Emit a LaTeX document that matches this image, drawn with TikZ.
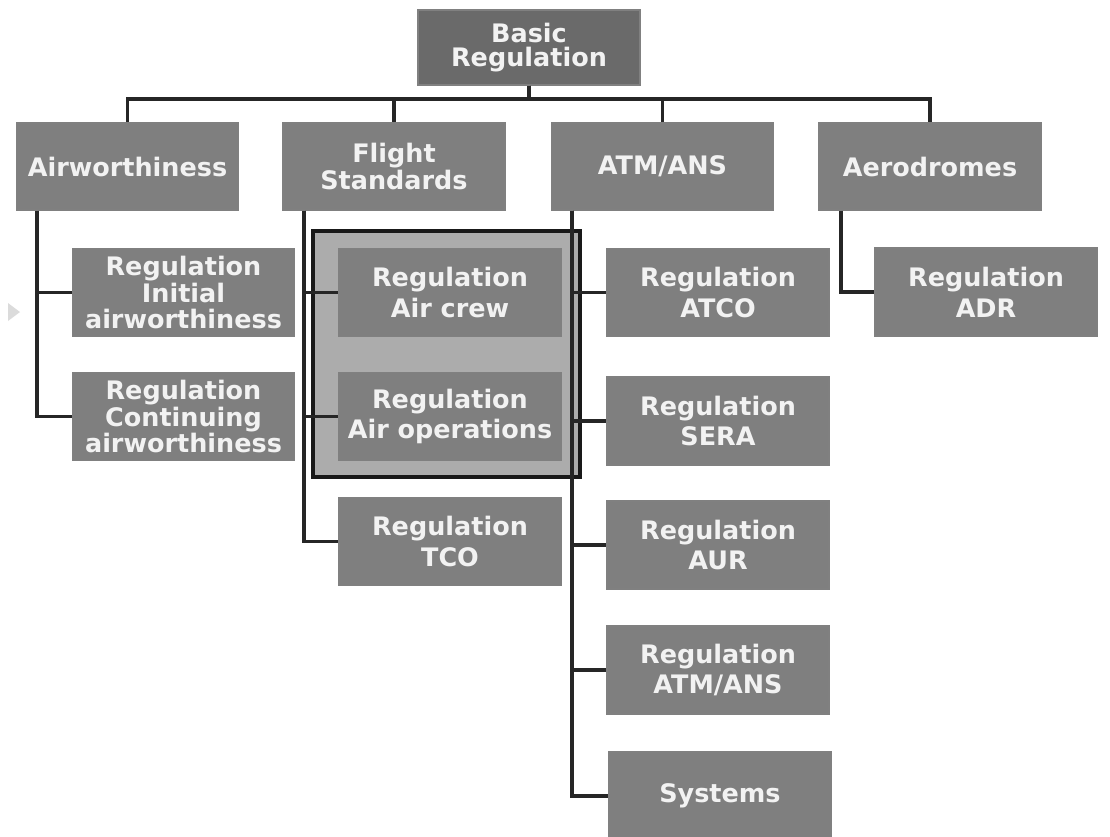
\documentclass[tikz,border=0pt]{standalone}
\usepackage{fontspec}
\setmainfont{DejaVu Sans}
\usetikzlibrary{calc}

\definecolor{boxgray}{RGB}{127,127,127}
\definecolor{topgray}{RGB}{106,106,106}
\definecolor{framegray}{RGB}{172,172,172}
\definecolor{linegray}{RGB}{38,38,38}
\definecolor{textwhite}{RGB}{242,242,242}

\tikzset{
  regbox/.style={draw=black!50, line width=0.8pt, fill=boxgray, text=textwhite,
    minimum width=4.44cm, minimum height=1.76cm, align=center, inner sep=1pt,
    font=\fontsize{14.5}{17.5}\selectfont\bfseries},
  tallbox/.style={regbox, font=\fontsize{14.5}{15.3}\selectfont\bfseries},
  headbox/.style={regbox, minimum height=1.74cm,
    font=\fontsize{14.5}{13.5}\selectfont\bfseries},
  conn/.style={draw=linegray, line width=2.1pt},
}

\begin{document}
\begin{tikzpicture}[x=0.02cm, y=-0.02cm]

\useasboundingbox (0,0) rectangle (1110,836);

%-- small marker on the left edge
\fill[gray!28] (8,303) -- (20,312) -- (8,321) -- cycle;

%-- highlighted group
\draw[draw=black!90, line width=2pt, fill=framegray] (313,231) rectangle (580,477);

%-- top
\node[headbox, fill=topgray, minimum height=1.5cm] (basic) at (529,47.5) {Basic\\Regulation};

%-- domains
\node[headbox] (airw)   at (127.5,166.5) {Airworthiness};
\node[headbox] (flight) at (394,166.5)   {Flight\\Standards};
\node[headbox] (atm)    at (662.5,166.5) {ATM/ANS};
\node[headbox] (aero)   at (930,166.5)   {Aerodromes};

%-- regulations
\node[tallbox] (init) at (183.5,292.5) {Regulation\\Initial\\airworthiness};
\node[tallbox] (cont) at (183.5,416.5) {Regulation\\Continuing\\airworthiness};

\node[regbox] (crew) at (450,292.5) {Regulation\\Air crew};
\node[regbox] (ops)  at (450,416.5) {Regulation\\Air operations};
\node[regbox] (tco)  at (450,541.5) {Regulation\\TCO};

\node[regbox] (atco)   at (718,292.5) {Regulation\\ATCO};
\node[regbox] (sera)   at (718,421)   {Regulation\\SERA};
\node[regbox] (aur)    at (718,545)   {Regulation\\AUR};
\node[regbox] (atmreg) at (718,670)   {Regulation\\ATM/ANS};
\node[regbox] (sys)    at (720,796)   {Systems};

\node[regbox] (adr) at (986,292) {Regulation\\ADR};

%-- tree connectors
\foreach \d in {airw,flight,atm,aero}
  \draw[conn] (basic.south) -- ++(0,13) -| (\d.north);

\foreach \r in {init,cont}
  \draw[conn] ($(airw.south west)+(21,0)$) |- (\r.west);
\foreach \r in {crew,ops,tco}
  \draw[conn] ($(flight.south west)+(22,0)$) |- (\r.west);
\foreach \r in {atco,sera,aur,atmreg,sys}
  \draw[conn] ($(atm.south west)+(21,0)$) |- (\r.west);
\draw[conn] ($(aero.south west)+(23,0)$) |- (adr.west);

\end{tikzpicture}
\end{document}
